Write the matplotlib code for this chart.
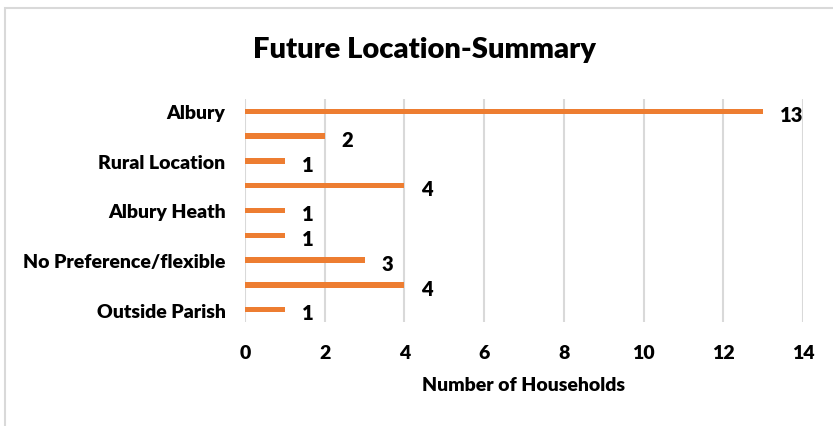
import matplotlib.pyplot as plt
from matplotlib.patches import Rectangle

plt.rcParams['font.family'] = ['Lato', 'DejaVu Sans']
plt.rcParams['font.weight'] = 'bold'

# data (top to bottom); unlabeled categories are hidden in the reference
categories = ['Albury', '', 'Rural Location', '', 'Albury Heath', '', 'No Preference/flexible', '', 'Outside Parish']
households = [13, 2, 1, 4, 1, 1, 3, 4, 1]
x_ticks = [0, 2, 4, 6, 8, 10, 12, 14]

fig = plt.figure(figsize=(8.33, 4.27), dpi=100)
ax = fig.add_axes([245 / 833, 1 - 323 / 427, 558 / 833, 223 / 427])

ypos = list(range(len(categories)))[::-1]
ax.barh(ypos, households, height=0.22, color='#ED7D31', zorder=3)
for y, v in zip(ypos, households):
    ax.text(v + 0.42, y - 0.13, str(v), ha='left', va='center', fontsize=14.5,
            fontweight='heavy', color='black', zorder=4)

ax.set_xlim(0, 14)
ax.set_ylim(-0.5, len(categories) - 0.5)
ax.set_xticks(x_ticks)
ax.set_xticklabels([str(t) for t in x_ticks], fontsize=14, fontweight='heavy')
labeled = [(y, c) for y, c in zip(ypos, categories) if c]
ax.set_yticks([y for y, _ in labeled])
ax.set_yticklabels([c for _, c in labeled], fontsize=14, fontweight='heavy')
ax.tick_params(axis='both', length=0)
ax.tick_params(axis='x', pad=16)
ax.tick_params(axis='y', pad=14)
ax.grid(True, axis='x', color='#d9d9d9', linewidth=1.5, zorder=0)
for s in ax.spines.values():
    s.set_visible(False)

ax.set_xlabel('Number of Households', fontsize=14, fontweight='heavy', labelpad=11)
fig.text(424 / 833, 1 - 50 / 427, 'Future Location-Summary', ha='center', va='center',
         fontsize=21, fontweight='heavy')

# outer chart border (only top and left visible in the crop)
fig.patches.append(Rectangle((5 / 833, -0.1), 1.2, 1 - 8.5 / 427 + 0.1, transform=fig.transFigure,
                             fill=False, edgecolor='#d9d9d9', linewidth=1.5))

fig.savefig('out.png', dpi=100)
